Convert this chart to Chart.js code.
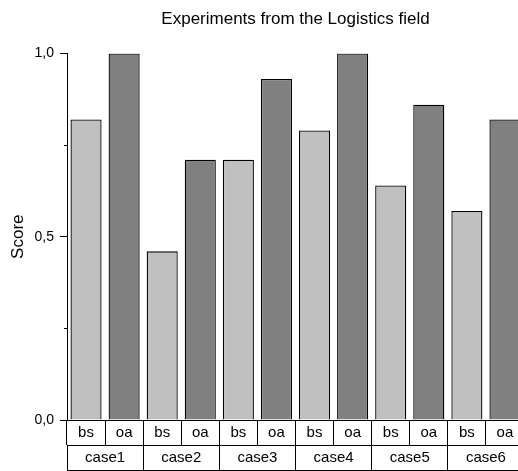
<!DOCTYPE html>
<html>
<head>
<meta charset="utf-8">
<script src="https://cdn.jsdelivr.net/npm/chart.js@4"></script>
<style>
  html, body { margin: 0; padding: 0; background: #fff; overflow: hidden; }
  canvas { display: block; }
</style>
</head>
<body>
<canvas id="c" width="530" height="471"></canvas>
<script>
const cases = ['case1', 'case2', 'case3', 'case4', 'case5', 'case6'];
const subLabels = ['bs', 'oa', 'bs', 'oa', 'bs', 'oa', 'bs', 'oa', 'bs', 'oa', 'bs', 'oa'];
const bsScores = [0.82, 0.46, 0.71, 0.79, 0.64, 0.57];
const oaScores = [1.0, 0.71, 0.93, 1.0, 0.86, 0.82];
const yTicks = [0, 0.5, 1.0];

const FONT = 'Liberation Sans, Arial, sans-serif';

new Chart(document.getElementById('c'), {
  type: 'bar',
  data: {
    labels: cases,
    datasets: [
      { label: 'bs', data: bsScores, xAxisID: 'x', yAxisID: 'y',
        backgroundColor: '#c0c0c0', borderColor: '#000', borderWidth: 1.3,
        categoryPercentage: 1.0, barPercentage: 0.816 },
      { label: 'oa', data: oaScores, xAxisID: 'x', yAxisID: 'y',
        backgroundColor: '#808080', borderColor: '#000', borderWidth: 1.3,
        categoryPercentage: 1.0, barPercentage: 0.816 }
    ]
  },
  options: {
    responsive: false,
    animation: false,
    devicePixelRatio: 1,
    layout: { padding: { left: 0, right: 6, top: 0, bottom: 1 } },
    plugins: {
      legend: { display: false },
      tooltip: { enabled: false },
      title: {
        display: true,
        text: 'Experiments from the Logistics field',
        color: '#000',
        fullSize: false,
        font: { family: FONT, size: 17, weight: 'normal' },
        padding: { top: 9, bottom: 24 }
      }
    },
    scales: {
      x: {
        type: 'category',
        position: 'bottom',
        weight: 1,
        offset: true,
        grid: { display: true, offset: true, drawOnChartArea: false, drawTicks: true, tickLength: 25, color: '#000', tickColor: '#000' },
        border: { display: true, color: '#000', width: 1 },
        ticks: { color: '#000', font: { family: FONT, size: 15 }, padding: -20.9, maxRotation: 0, autoSkip: false },
        afterFit: (s) => { s.height = 25; }
      },
      xsub: {
        type: 'category',
        position: 'bottom',
        labels: subLabels,
        weight: 0,
        offset: true,
        grid: { display: true, offset: true, drawOnChartArea: false, drawTicks: true, tickLength: 25, color: '#000', tickColor: '#000' },
        border: { display: true, color: '#000', width: 1 },
        ticks: { color: '#000', font: { family: FONT, size: 15 }, padding: -21.4, maxRotation: 0, autoSkip: false },
        afterFit: (s) => { s.height = 25; }
      },
      xend: {
        type: 'category',
        position: 'bottom',
        labels: cases,
        weight: 2,
        offset: true,
        grid: { display: true, drawOnChartArea: false, drawTicks: false },
        border: { display: true, color: '#000', width: 1 },
        ticks: { display: false },
        afterFit: (s) => { s.height = 0; }
      },
      y: {
        type: 'linear',
        position: 'left',
        weight: 1,
        min: 0,
        max: 1,
        afterBuildTicks: (s) => { s.ticks = yTicks.map(v => ({ value: v })); },
        grid: { display: true, drawOnChartArea: false, drawTicks: true, tickLength: 7, color: '#000', tickColor: '#000' },
        border: { display: true, color: '#000', width: 1 },
        ticks: {
          color: '#000',
          font: { family: FONT, size: 14 },
          padding: 6,
          callback: (v) => Number(v).toFixed(1).replace('.', ',')
        },
        title: {
          display: true,
          text: 'Score',
          color: '#000',
          font: { family: FONT, size: 17 },
          padding: { top: 8, bottom: 0 }
        },
        afterFit: (s) => { s.width = 67; }
      },
      yMinor: {
        type: 'linear',
        position: 'left',
        weight: 0,
        min: 0,
        max: 1,
        ticks: { display: false, stepSize: 0.25 },
        grid: { display: true, drawOnChartArea: false, drawTicks: true, tickLength: 3, color: '#000', tickColor: '#000' },
        border: { display: false },
        afterFit: (s) => { s.width = 0; }
      }
    }
  }
});
</script>
</body>
</html>
